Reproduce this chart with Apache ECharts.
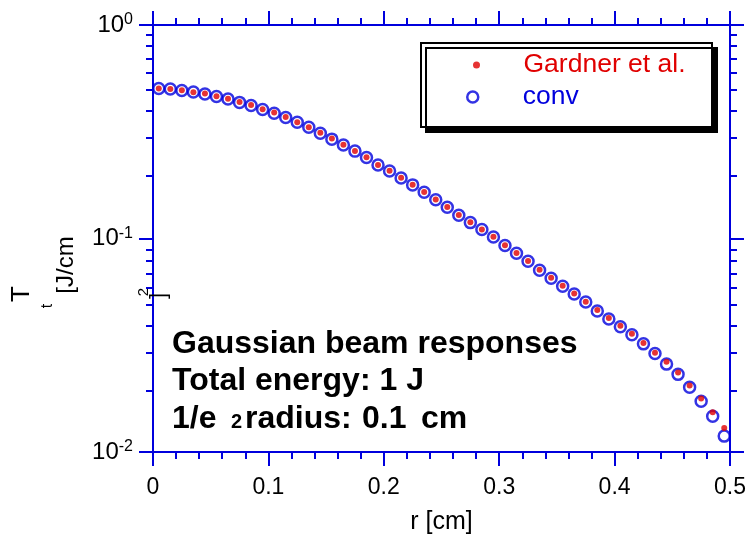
<!DOCTYPE html>
<html><head><meta charset="utf-8">
<script src="https://cdn.jsdelivr.net/npm/echarts@6/dist/echarts.min.js"></script>
<style>html,body{margin:0;padding:0;background:#fff}#c{width:752px;height:540px}</style>
</head><body><div id="c"></div>
<script>
// ---- data ----
const radius = [0.005,0.015,0.025,0.035,0.045,0.055,0.065,0.075,0.085,0.095,
  0.105,0.115,0.125,0.135,0.145,0.155,0.165,0.175,0.185,0.195,
  0.205,0.215,0.225,0.235,0.245,0.255,0.265,0.275,0.285,0.295,
  0.305,0.315,0.325,0.335,0.345,0.355,0.365,0.375,0.385,0.395,
  0.405,0.415,0.425,0.435,0.445,0.455,0.465,0.475,0.485,0.495];
const gardner = [0.504,0.502,0.495,0.484,0.478,0.464,0.451,0.436,0.422,0.403,
  0.389,0.371,0.350,0.332,0.313,0.294,0.275,0.257,0.240,0.221,
  0.2075,0.1925,0.1785,0.1650,0.1522,0.1405,0.1290,0.1190,0.1103,0.1020,
  0.0930,0.0855,0.0785,0.0713,0.0655,0.0601,0.0552,0.0506,0.0462,0.0424,
  0.0390,0.0358,0.0324,0.0292,0.0265,0.0236,0.0205,0.01783,0.01535,0.01294];
const conv = [0.504,0.501,0.493,0.485,0.475,0.462,0.450,0.434,0.420,0.402,
  0.386,0.369,0.350,0.332,0.311,0.292,0.274,0.2566,0.2394,0.2209,
  0.2072,0.1922,0.1783,0.1646,0.1518,0.1401,0.1286,0.1187,0.1101,0.1016,
  0.0928,0.0852,0.0782,0.0710,0.0652,0.0598,0.0549,0.0504,0.0458,0.0420,
  0.0386,0.0354,0.0321,0.0289,0.0258,0.0231,0.0201,0.01727,0.01471,0.01187];
const seriesNames = ['Gardner et al.', 'conv'];
const xRange = [0, 0.5];
const xStep = 0.1;
const yRange = [0.01, 1];
const decadeExponents = [-2, -1];
const minorMantissas = [2,3,4,5,6,7,8,9];
const annotation = ['Gaussian beam responses', 'Total energy: 1 J', '1/e', '2', 'radius:', '0.1', 'cm'];

// ---- chart ----
const BLUE = '#0000dd', RED = '#e00000';
const FONT = '"Liberation Sans", Arial, Helvetica, sans-serif';
const minorLog = [];
decadeExponents.forEach(e => minorMantissas.forEach(m => minorLog.push(e + Math.log10(m))));

const gridRect = {left:153, right:22, top:25, bottom:85};
const axLine = {show:true, onZero:false, lineStyle:{color:BLUE, width:2}};
const majorTick = {show:true, inside:false, length:14, lineStyle:{color:BLUE, width:2}};

function xAxis(pos, labels) {
  const a = {type:'value', gridIndex:0, position:pos, min:xRange[0], max:xRange[1], interval:xStep,
    axisLine:axLine, axisTick:majorTick,
    minorTick:{show:true, splitNumber:5, length:7, lineStyle:{color:BLUE, width:2}},
    splitLine:{show:false}, minorSplitLine:{show:false},
    axisLabel:{show:labels, margin:24, fontSize:23, color:'#000', fontFamily:FONT}};
  if (labels) {
    a.name = 'r [cm]'; a.nameLocation = 'middle'; a.nameGap = 58;
    a.nameTextStyle = {fontSize:25, color:'#000', fontFamily:FONT};
  }
  return a;
}
function yMajor(pos, labels) {
  return {type:'log', gridIndex:0, logBase:10, position:pos, min:yRange[0], max:yRange[1],
    axisLine:axLine, axisTick:majorTick, minorTick:{show:false},
    splitLine:{show:false},
    axisLabel:{show:labels, margin:20, fontFamily:FONT,
      formatter: v => '{b|10}{s|' + Math.round(Math.log10(v)) + '}',
      rich:{b:{fontSize:24, color:'#000', fontFamily:FONT, lineHeight:26},
            s:{fontSize:16, color:'#000', fontFamily:FONT, lineHeight:16, verticalAlign:'top'}}}};
}
function yMinor(pos) {
  return {type:'value', gridIndex:1, position:pos, min:Math.log10(yRange[0]), max:Math.log10(yRange[1]),
    axisLine:{show:false},
    axisTick:{show:true, inside:false, length:7, customValues:minorLog, lineStyle:{color:BLUE, width:2}},
    axisLabel:{show:false}, splitLine:{show:false}};
}

function txt(t, x, y, size, opts) {
  return Object.assign({type:'text', x:x, y:y, z:10,
    style:{text:t, fontSize:size, fontFamily:FONT, fill:'#000', align:'left', verticalAlign:'middle'}}, opts || {});
}
function boldTxt(t, x, y, size) {
  const e = txt(t, x, y, size); e.style.fontWeight = 'bold'; return e;
}
function rotTxt(t, x, y, size) {
  const e = txt(t, x, y, size); e.rotation = Math.PI / 2; e.style.align = 'center'; return e;
}

const chart = echarts.init(document.getElementById('c'));
chart.setOption({
  animation:false,
  backgroundColor:'#fff',
  grid:[Object.assign({}, gridRect), Object.assign({}, gridRect)],
  xAxis:[xAxis('bottom', true), xAxis('top', false),
         {type:'value', gridIndex:1, min:xRange[0], max:xRange[1], show:false}],
  yAxis:[yMajor('left', true), yMajor('right', false), yMinor('left'), yMinor('right')],
  legend:[
    {data:[{name:seriesNames[0], icon:'circle', itemStyle:{color:RED}}],
     left:473, top:51, padding:0, itemWidth:84, itemHeight:7, selectedMode:false, z:5,
     textStyle:{color:RED, fontSize:26.5, fontFamily:FONT, lineHeight:28}},
    {data:[{name:seriesNames[1], icon:'circle', itemStyle:{color:'#fff', borderColor:BLUE, borderWidth:2.5}}],
     left:466, top:83, padding:0, itemWidth:90, itemHeight:11, selectedMode:false, z:5,
     textStyle:{color:BLUE, fontSize:26.5, fontFamily:FONT, lineHeight:28}}
  ],
  graphic:[
    {type:'rect', z:3, shape:{x:421, y:43, width:291, height:84},
     style:{fill:'#fff', stroke:'#000', lineWidth:2, shadowColor:'#000', shadowOffsetX:5, shadowOffsetY:5, shadowBlur:0}},
    boldTxt(annotation[0], 172, 344, 32),
    boldTxt(annotation[1], 172, 381, 32),
    boldTxt(annotation[2], 172, 419, 32),
    boldTxt(annotation[3], 231, 422, 20),
    boldTxt(annotation[4], 245, 419, 32),
    boldTxt(annotation[5], 362, 419, 32),
    boldTxt(annotation[6], 421, 419, 32),
    rotTxt('T', 22, 294, 26),
    rotTxt('t', 48, 306, 16),
    rotTxt('[J/cm', 66, 265, 24),
    rotTxt('2', 144, 292, 15),
    rotTxt(']', 159, 296, 22)
  ],
  series:[
    {name:seriesNames[1], type:'scatter', xAxisIndex:0, yAxisIndex:0, z:2,
     symbol:'circle', symbolSize:11,
     itemStyle:{color:'rgba(255,255,255,0)', borderColor:BLUE, borderWidth:2.5},
     data:radius.map((r, i) => [r, conv[i]])},
    {name:seriesNames[0], type:'scatter', xAxisIndex:0, yAxisIndex:0, z:3,
     symbol:'circle', symbolSize:6,
     itemStyle:{color:RED},
     data:radius.map((r, i) => [r, gardner[i]])}
  ]
});
</script></body></html>
